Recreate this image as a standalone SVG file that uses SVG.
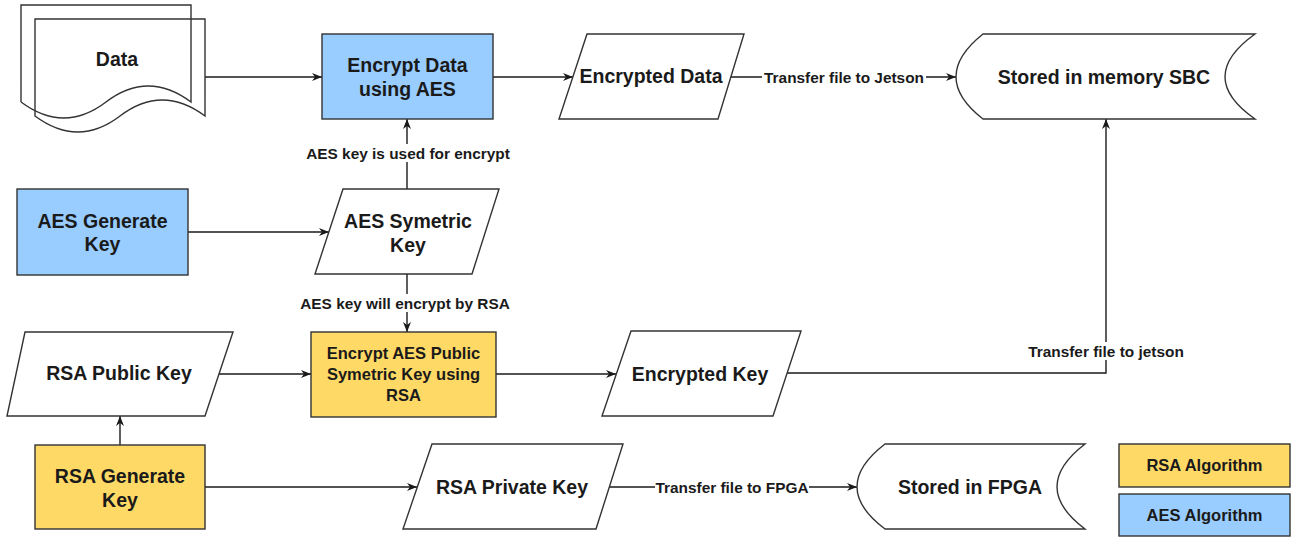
<svg xmlns="http://www.w3.org/2000/svg" width="1294" height="537" viewBox="0 0 1294 537">
<style>
.n{stroke:#333;stroke-width:1.4;}
.w{fill:#fff;}
.b{fill:#99CCFF;}
.y{fill:#FFD966;}
.t{font-family:"Liberation Sans",Arial,sans-serif;font-weight:bold;font-size:19.5px;fill:#1a1a1a;text-anchor:middle;}
.s{font-size:16.5px;}
.e{font-family:"Liberation Sans",Arial,sans-serif;font-weight:bold;font-size:15.4px;fill:#1a1a1a;text-anchor:middle;}
.c{fill:none;stroke:#1a1a1a;stroke-width:1.4;}
.lb{fill:#fff;}
</style>
<defs>
<marker id="ar" viewBox="0 0 10 10" refX="10" refY="5" markerWidth="10" markerHeight="10" markerUnits="userSpaceOnUse" orient="auto">
<path d="M0,1 L10,5 L0,9 L3,5 Z" fill="#1a1a1a"/>
</marker>
</defs>
<rect width="1294" height="537" fill="#fff"/>

<g id="connectors">
<path class="c" d="M205,77 H322" marker-end="url(#ar)"/>
<path class="c" d="M493,77 H573" marker-end="url(#ar)"/>
<path class="c" d="M730,77 H956" marker-end="url(#ar)"/>
<path class="c" d="M188,232 H329" marker-end="url(#ar)"/>
<path class="c" d="M407,189 V119" marker-end="url(#ar)"/>
<path class="c" d="M407,274 V332" marker-end="url(#ar)"/>
<path class="c" d="M219,374 H311" marker-end="url(#ar)"/>
<path class="c" d="M120,445 V416" marker-end="url(#ar)"/>
<path class="c" d="M205,487 H417" marker-end="url(#ar)"/>
<path class="c" d="M496,374 H616" marker-end="url(#ar)"/>
<path class="c" d="M787,373 H1106 V119" marker-end="url(#ar)"/>
<path class="c" d="M609,487 H857" marker-end="url(#ar)"/>
<rect class="lb" x="762" y="68" width="164" height="18"/>
<text class="e" x="844" y="82.5">Transfer file to Jetson</text>
<rect class="lb" x="305" y="144" width="206" height="18"/>
<text class="e" x="408" y="158.5">AES key is used for encrypt</text>
<rect class="lb" x="299" y="294" width="212" height="18"/>
<text class="e" x="405" y="308.5">AES key will encrypt by RSA</text>
<rect class="lb" x="1027" y="342" width="157" height="18"/>
<text class="e" x="1106" y="356.5">Transfer file to jetson</text>
<rect class="lb" x="655" y="478" width="154" height="18"/>
<text class="e" x="732" y="492.5">Transfer file to FPGA</text>
</g>

<g id="data">
<path class="n w" d="M35,19 H205 V116 Q162,84 120,116 Q78,148 35,116 Z"/>
<path class="n" fill="none" d="M21,102 V5 H191 V102 Q148,70 106,102 Q64,134 21,102"/>
<text class="t" x="117" y="66">Data</text>
</g>

<g id="encrypt-data">
<rect class="n b" x="322" y="34" width="171" height="85"/>
<text class="t" x="407.5" y="72">Encrypt Data</text>
<text class="t" x="407.5" y="96">using AES</text>
</g>

<g id="encrypted-data">
<path class="n w" d="M587,34 H744 L718,119 H559 Z"/>
<text class="t" x="651" y="83">Encrypted Data</text>
</g>

<g id="stored-sbc">
<path class="n w" d="M983,34 H1255 Q1195,77 1255,119 H983 Q929,77 983,34 Z"/>
<text class="t" x="1104" y="84">Stored in memory SBC</text>
</g>

<g id="aes-generate">
<rect class="n b" x="17" y="189" width="171" height="86"/>
<text class="t" x="102.5" y="228">AES Generate</text>
<text class="t" x="102.5" y="251">Key</text>
</g>

<g id="aes-symetric">
<path class="n w" d="M343,189 H499 L472,274 H315 Z"/>
<text class="t" x="408" y="228">AES Symetric</text>
<text class="t" x="408" y="252">Key</text>
</g>

<g id="rsa-public">
<path class="n w" d="M25,332 H233 L205,416 H7 Z"/>
<text class="t" x="119" y="380">RSA Public Key</text>
</g>

<g id="encrypt-aes">
<rect class="n y" x="311" y="332" width="185" height="85"/>
<text class="t s" x="403.5" y="359">Encrypt AES Public</text>
<text class="t s" x="403.5" y="380">Symetric Key using</text>
<text class="t s" x="403.5" y="401">RSA</text>
</g>

<g id="encrypted-key">
<path class="n w" d="M631,331 H801 L773,416 H602 Z"/>
<text class="t" x="700" y="381">Encrypted Key</text>
</g>

<g id="rsa-generate">
<rect class="n y" x="35" y="445" width="170" height="84"/>
<text class="t" x="120" y="483">RSA Generate</text>
<text class="t" x="120" y="507">Key</text>
</g>

<g id="rsa-private">
<path class="n w" d="M432,444 H623 L596,529 H403 Z"/>
<text class="t" x="512" y="494">RSA Private Key</text>
</g>

<g id="stored-fpga">
<path class="n w" d="M885,444 H1085 Q1029,487 1085,529 H885 Q829,487 885,444 Z"/>
<text class="t" x="970" y="494">Stored in FPGA</text>
</g>

<g id="legend-rsa">
<rect class="n y" x="1119" y="444" width="171" height="43"/>
<text class="t s" x="1204.5" y="471">RSA Algorithm</text>
</g>

<g id="legend-aes">
<rect class="n b" x="1119" y="494" width="171" height="42"/>
<text class="t s" x="1204.5" y="521">AES Algorithm</text>
</g>
</svg>
